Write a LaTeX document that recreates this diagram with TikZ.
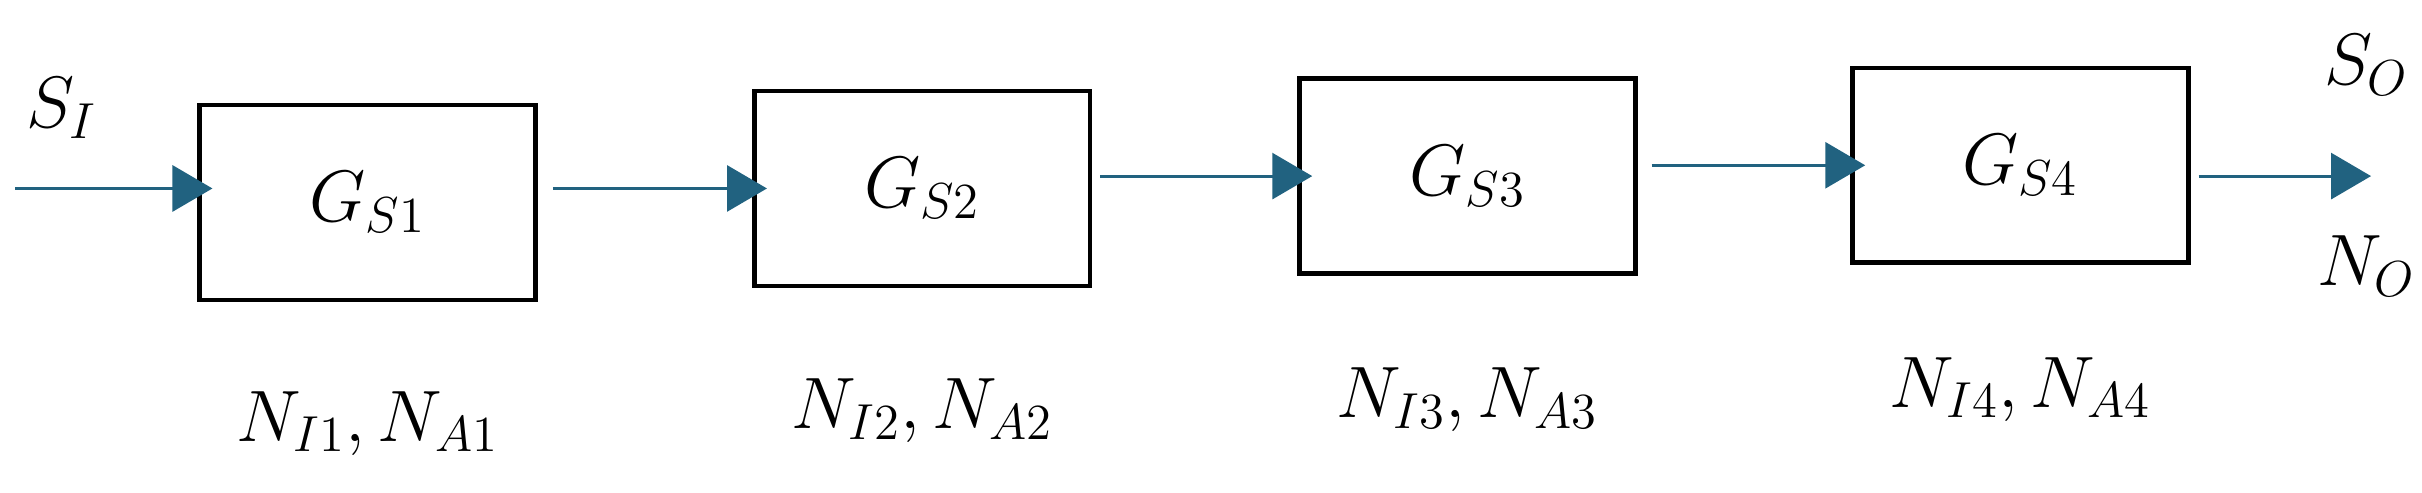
\documentclass[tikz,border=0pt]{standalone}
\usepackage{amsmath}
\usepackage{tikz}
\usetikzlibrary{arrows.meta,positioning}
\definecolor{sigblue}{RGB}{33,98,128}

\begin{document}
\begin{tikzpicture}[x=0.01545cm,y=-0.01545cm,
  block/.style={draw,line width=1.3pt,minimum width=3.36cm,minimum height=1.95cm,inner sep=0pt},
  sig/.style={draw=sigblue,line width=0.9pt,-{Triangle[length=0.4cm,width=0.46cm]},color=sigblue,shorten >=-0.15cm},
  font=\fontsize{22}{26}\selectfont]
\useasboundingbox (0,0) rectangle (1568,319);

% Blocks
\node [block] (g1) at (238,131) {$G_{S1}$};
\node [block] (g2) at (597,122) {$G_{S2}$};
\node [block] (g3) at (950,114) {$G_{S3}$};
\node [block] (g4) at (1308,107) {$G_{S4}$};

% Noise labels
\node (n1) at (238,274) {$N_{I1}, N_{A1}$};
\node (n2) at (597,266) {$N_{I2}, N_{A2}$};
\node (n3) at (950,259) {$N_{I3}, N_{A3}$};
\node (n4) at (1308,252) {$N_{I4}, N_{A4}$};

% Input and output
\coordinate (in) at (10,122);
\coordinate (out) at (1535,114);
\node (si) at (40,70) {$S_I$};
\node (so) at (1532,42) {$S_O$};
\node (no) at (1532,172) {$N_O$};

% Signal path
\draw [sig] (in) -- (in -| g1.west);
\draw [sig,shorten <=0.15cm] (g1.east |- g2.west) -- (g2.west);
\draw [sig,shorten <=0.08cm] (g2.east |- g3.west) -- (g3.west);
\draw [sig,shorten <=0.14cm] (g3.east |- g4.west) -- (g4.west);
\draw [sig,shorten <=0.08cm,shorten >=0pt] (g4.east |- out) -- (out);
\end{tikzpicture}
\end{document}
